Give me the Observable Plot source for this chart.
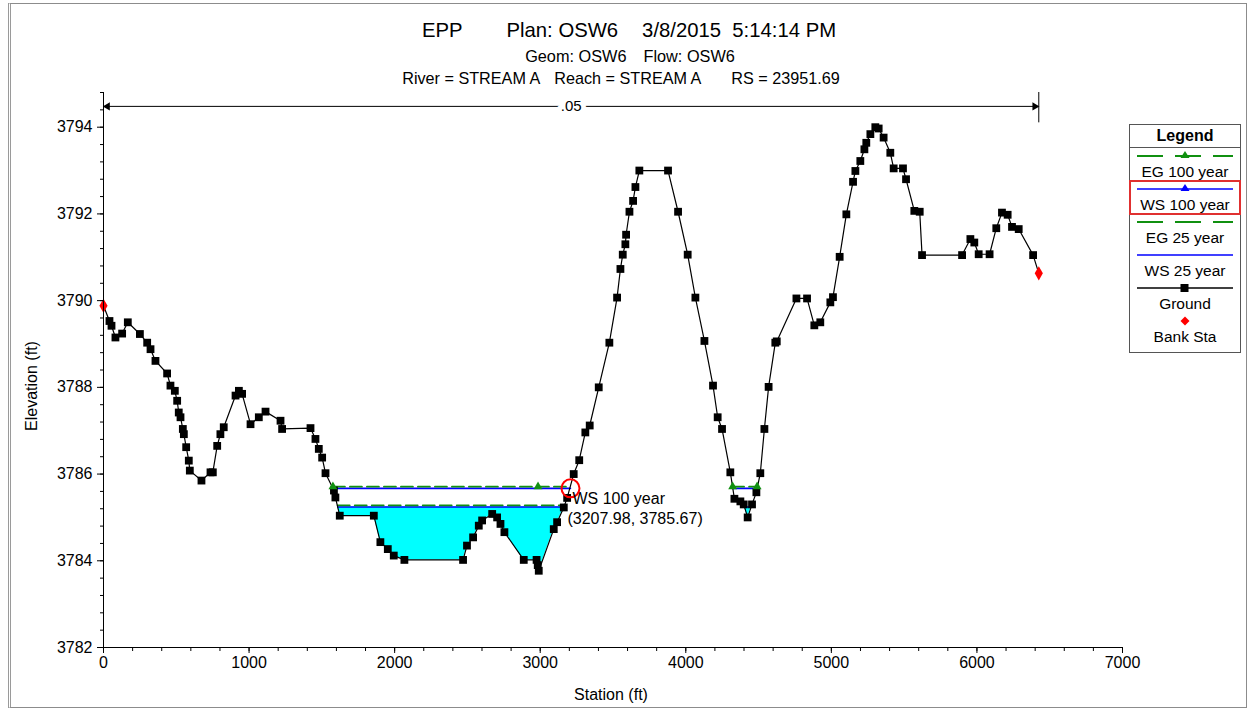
<!DOCTYPE html>
<html><head><meta charset="utf-8">
<script src="https://cdn.jsdelivr.net/npm/d3@7"></script>
<script src="https://cdn.jsdelivr.net/npm/@observablehq/plot@0.6"></script>
<style>
body{margin:0;background:#fff;font-family:"Liberation Sans",Arial,sans-serif;}
#wrap{position:relative;width:1253px;height:713px;overflow:hidden;background:#fff;}
#frame{position:absolute;left:8px;top:3px;width:1239px;height:705px;border:1px solid #8c8c8c;border-left:3px double #9a9a9a;box-sizing:border-box;}
.t{position:absolute;white-space:pre;color:#000;line-height:1;}
.c{transform:translateX(-50%);}
#chart{position:absolute;left:0;top:85px;}
#legend{position:absolute;left:1129px;top:124px;width:112px;height:229px;border:1px solid #555;box-sizing:border-box;background:#fff;}
#legend .hd{font-weight:bold;font-size:16px;text-align:center;height:22px;line-height:22px;border-bottom:1px solid #555;}
#legend .it{position:relative;height:33px;text-align:center;font-size:15.5px;box-sizing:border-box;}
#legend .it svg{position:absolute;left:7px;top:2px;}
#legend .it span{position:absolute;left:0;right:0;top:16px;line-height:1;}
#legend .sel{outline:2px solid #e03030;outline-offset:-1px;}
</style></head><body>
<div id="wrap">
  <div id="frame"></div>
  <div class="t c" style="left:629px;top:20px;font-size:20.3px;"><span>EPP</span><span style="margin-left:44px">Plan: OSW6</span><span style="margin-left:24px">3/8/2015  5:14:14 PM</span></div>
  <div class="t c" style="left:630px;top:48px;font-size:16.3px;"><span>Geom: OSW6</span><span style="margin-left:17px">Flow: OSW6</span></div>
  <div class="t c" style="left:621px;top:70px;font-size:16.2px;"><span>River = STREAM A</span><span style="margin-left:14px">Reach = STREAM A</span><span style="margin-left:30px">RS = 23951.69</span></div>
  <div id="chart"></div>
  <div class="t" style="left:32px;top:386px;font-size:16px;transform:translate(-50%,-50%) rotate(-90deg);">Elevation (ft)</div>
  <div class="t c" style="left:611px;top:687px;font-size:16px;">Station (ft)</div>
  <div id="legend"></div>
</div>
<script>
// ---- data ----
const groundStation = [0,41,55,82,128,167,250,300,323,357,437,460,490,506,517,529,545,552,568,586,593,673,735,751,781,803,826,907,930,952,1010,1067,1113,1216,1227,1422,1456,1479,1502,1525,1583,1593,1623,1857,1902,1953,1994,2067,2470,2497,2539,2578,2601,2670,2704,2727,2754,2887,2975,2983,2990,3093,3116,3162,3185,3230,3268,3310,3340,3402,3475,3528,3551,3567,3585,3590,3613,3638,3654,3681,3878,3947,4013,4066,4128,4187,4219,4249,4306,4334,4375,4398,4425,4455,4485,4512,4540,4569,4615,4625,4760,4833,4883,4924,4993,5011,5057,5103,5149,5165,5199,5227,5240,5268,5302,5325,5359,5405,5428,5492,5513,5570,5607,5623,5898,5955,5982,6012,6087,6133,6172,6211,6241,6287,6386,6425];
const groundElev = [3789.88,3789.53,3789.42,3789.15,3789.24,3789.5,3789.23,3789.03,3788.88,3788.61,3788.32,3788.04,3787.92,3787.69,3787.42,3787.31,3787.04,3786.92,3786.62,3786.31,3786.08,3785.85,3786.04,3786.04,3786.65,3786.92,3787.08,3787.81,3787.92,3787.85,3787.15,3787.31,3787.44,3787.23,3787.04,3787.06,3786.81,3786.58,3786.38,3786.02,3785.62,3785.46,3785.04,3785.04,3784.43,3784.27,3784.12,3784.02,3784.02,3784.35,3784.54,3784.81,3784.93,3785.08,3785.0,3784.85,3784.66,3784.02,3784.02,3783.9,3783.77,3784.73,3784.89,3785.23,3785.45,3786.0,3786.32,3786.96,3787.12,3788.0,3789.03,3790.07,3790.73,3791.06,3791.3,3791.52,3792.05,3792.3,3792.62,3793.0,3793.0,3792.05,3791.06,3790.07,3789.07,3788.04,3787.31,3787.04,3786.04,3785.43,3785.37,3785.3,3785.0,3785.3,3785.58,3786.02,3787.04,3788.01,3789.03,3789.06,3790.05,3790.05,3789.43,3789.5,3789.96,3790.08,3791.01,3791.99,3792.74,3792.99,3793.22,3793.49,3793.64,3793.84,3794.0,3793.97,3793.76,3793.41,3793.05,3793.05,3792.8,3792.07,3792.05,3791.05,3791.05,3791.42,3791.34,3791.07,3791.07,3791.67,3792.03,3791.98,3791.7,3791.65,3791.05,3790.63];
const bankStation = [0, 6425];
const bankElev = [3789.88, 3790.63];
const ws100Elev = 3785.67, eg100Elev = 3785.71;
const ws25Elev = 3785.24, eg25Elev = 3785.28;
const ws100From = [1576, 4318], ws100To = [3208, 4495];
const ws25From = [1609, 4403], ws25To = [3164, 4449];
const eg100MarkerStation = [1576, 2985, 4322, 4490];
const nValueLabel = ".05";
const nFrom = 0, nTo = 6425, nElev = 3794.48;
const hoverStation = 3207.98, hoverElev = 3785.67;
const hoverLabel = ["WS 100 year", "(3207.98, 3785.67)"];
const xMajorTicks = [0,1000,2000,3000,4000,5000,6000,7000];
const yMajorTicks = [3782,3784,3786,3788,3790,3792,3794];
const legendLabels = ["EG 100 year","WS 100 year","EG 25 year","WS 25 year","Ground","Bank Sta"];

// ---- derived tables ----
const ground = groundStation.map((s,i)=>({x:s, y:groundElev[i]}));
const banks = bankStation.map((s,i)=>({x:s, y:bankElev[i]}));
function segs(from, to, level){ return from.map((f,i)=>[{x:f,y:level,k:i},{x:to[i],y:level,k:i}]).flat(); }
const fill = [];
ws25From.forEach((f,i)=>{
  const t = ws25To[i];
  fill.push({x:f, g:ws25Elev, k:i});
  ground.filter(d=>d.x>f && d.x<t).forEach(d=>fill.push({x:d.x, g:Math.min(d.y, ws25Elev), k:i}));
  fill.push({x:t, g:ws25Elev, k:i});
});
const egMarks = eg100MarkerStation.map(s=>({x:s, y:eg100Elev}));

const GREEN = "#109010", BLUE = "#0000ff";
const chart = Plot.plot({
  width: 1253, height: 628,
  marginLeft: 103, marginRight: 131, marginTop: 7, marginBottom: 66,
  x: {domain: [0, 7000]},
  y: {domain: [3782, 3794.8]},
  style: {fontFamily: "'Liberation Sans', Arial, sans-serif", fontSize: "16px", color: "#000", background: "transparent", overflow: "visible"},
  marks: [
    Plot.areaY(fill, {x:"x", y1:"g", y2: ws25Elev, z:"k", fill:"#00ffff", curve:"linear"}),
    Plot.line(segs(ws100From, ws100To, ws100Elev), {x:"x", y:"y", z:"k", stroke:BLUE, strokeWidth:1.6}),
    Plot.line(segs(ws25From, ws25To, ws25Elev), {x:"x", y:"y", z:"k", stroke:BLUE, strokeWidth:1.6}),
    Plot.line(segs(ws100From, ws100To, eg100Elev), {x:"x", y:"y", z:"k", stroke:GREEN, strokeWidth:1.8, strokeDasharray:"12,5"}),
    Plot.line(segs([ws25From[0]], [ws25To[0]], eg25Elev), {x:"x", y:"y", z:"k", stroke:GREEN, strokeWidth:1.8, strokeDasharray:"12,5"}),
    Plot.line(ground, {x:"x", y:"y", stroke:"#000", strokeWidth:1.2}),
    Plot.dot(ground.slice(1, -1), {x:"x", y:"y", symbol:"square", r:4.4, fill:"#000"}),
    Plot.dot(egMarks, {x:"x", y:"y", symbol:"triangle", r:3.3, fill:GREEN}),
    Plot.dot(banks, {x:"x", y:"y", symbol:"diamond", r:4.3, fill:"#ff0000"}),
    // axes
    Plot.ruleX([0], {y1:3782, y2:3794.8, stroke:"#000"}),
    Plot.ruleY([3782], {x1:0, x2:7000, stroke:"#000"}),
    Plot.axisX({ticks: d3.range(0, 7001, 200), tickSize: 4, tickFormat: () => "", label: null}),
    Plot.axisX({ticks: xMajorTicks, tickSize: 6, tickPadding: 3, tickFormat: d3.format("d"), label: null}),
    Plot.axisY({ticks: d3.range(0, 33).map(i => 3782 + i*0.4), tickSize: 3, tickFormat: () => "", label: null}),
    Plot.axisY({ticks: yMajorTicks, tickSize: 6, tickPadding: 5, tickFormat: d3.format("d"), label: null}),
    // Manning's n bar
    Plot.ruleY([nElev], {x1:nFrom, x2:nTo, stroke:"#000"}),
    Plot.ruleX([nTo], {y1:3794.1, y2:3794.8, stroke:"#000"}),
    Plot.dot([nFrom], {x:d=>d, y:nElev, symbol:"triangle", r:3, rotate:-90, dx:4, fill:"#000"}),
    Plot.dot([nTo], {x:d=>d, y:nElev, symbol:"triangle", r:3, rotate:90, dx:-4, fill:"#000"}),
    Plot.text([nValueLabel], {x:(nFrom+nTo)/2, y:nElev, text:d=>d, stroke:"#fff", strokeWidth:10, fill:"#000", fontSize:15}),
    // hover highlight
    Plot.dot([hoverStation], {x:d=>d, y:hoverElev, r:9, stroke:"#ff0000", strokeWidth:2, fill:"none"}),
    Plot.text([hoverLabel[0]], {x:hoverStation, y:hoverElev, text:d=>d, textAnchor:"start", dx:2, dy:11, fontSize:16}),
    Plot.text([hoverLabel[1]], {x:hoverStation, y:hoverElev, text:d=>d, textAnchor:"start", dx:-3, dy:31, fontSize:16})
  ]
});
document.getElementById("chart").appendChild(chart);

// legend
const lg = document.getElementById("legend");
const sym = [
  `<line x1="0" y1="6" x2="96" y2="6" stroke="${GREEN}" stroke-width="2" stroke-dasharray="26,12"/><path d="M48,1 L52.5,8 L43.5,8 Z" fill="${GREEN}"/>`,
  `<line x1="0" y1="6" x2="96" y2="6" stroke="${BLUE}" stroke-width="1.6"/><path d="M48,1 L52.5,8 L43.5,8 Z" fill="${BLUE}"/>`,
  `<line x1="0" y1="6" x2="96" y2="6" stroke="${GREEN}" stroke-width="2" stroke-dasharray="26,12"/>`,
  `<line x1="0" y1="6" x2="96" y2="6" stroke="${BLUE}" stroke-width="1.6"/>`,
  `<line x1="0" y1="6" x2="96" y2="6" stroke="#000" stroke-width="1.3"/><rect x="43.5" y="2" width="8" height="8" fill="#000"/>`,
  `<path d="M48,1.5 L52.5,6 L48,10.5 L43.5,6 Z" fill="#ff0000"/>`
];
let html = `<div class="hd">Legend</div>`;
legendLabels.forEach((l,i)=>{
  html += `<div class="it${i===1?' sel':''}"><svg width="96" height="12">${sym[i]}</svg><span>${l}</span></div>`;
});
lg.innerHTML = html;
</script>
</body></html>
